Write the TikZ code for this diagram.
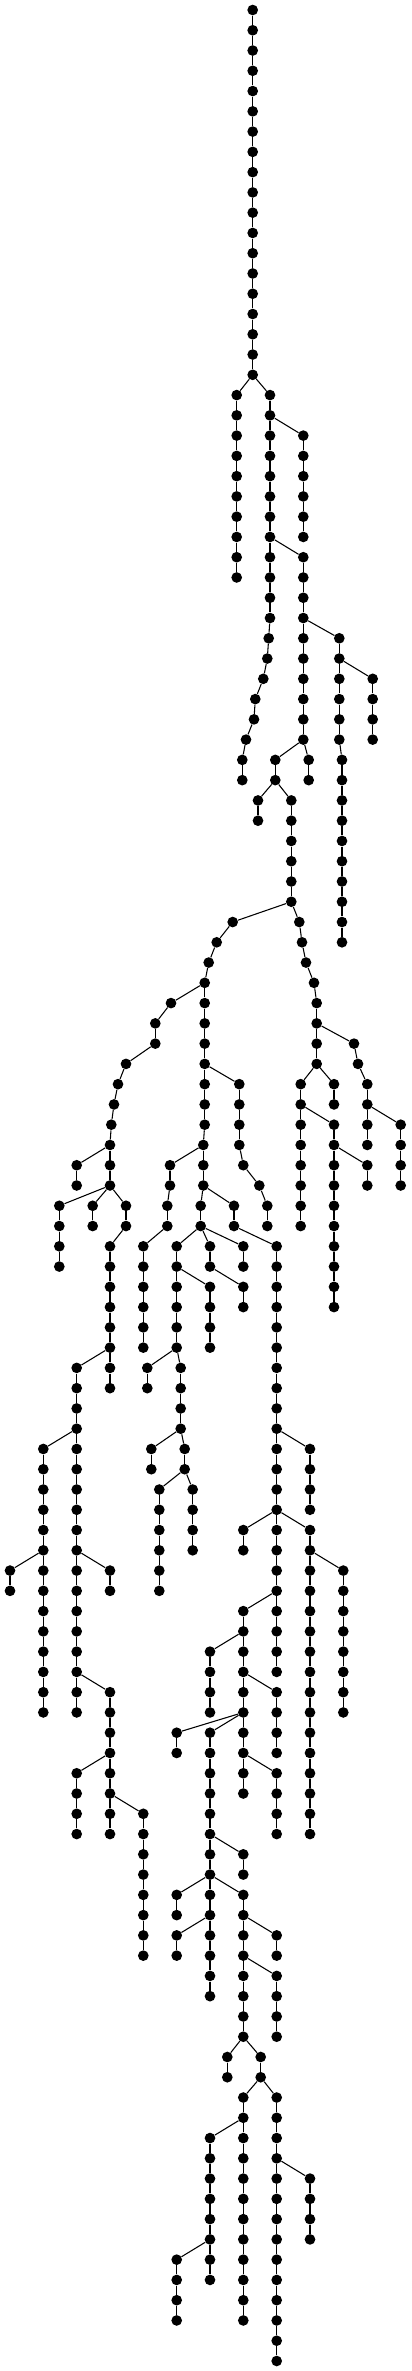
\documentclass[tikz,border=0pt]{standalone}
\usepackage{tikz}

\tikzset{
  dot/.style={circle,fill=black,inner sep=0pt,minimum size=8pt},
  edge/.style={line width=0.8pt}
}
% straight column of dots: name, x, first level, last level
\newcommand{\dotchain}[4]{%
  \foreach \l [remember=\l as \pl (initially -1)] in {#3,...,#4}{%
    \node[dot] (#1-\l) at (#2,{10+20.267*\l}) {};
    \ifnum\pl>-1 \draw[edge] (#1-\pl) -- (#1-\l);\fi
  }}
% bent column of dots: name, list level/x
\newcommand{\bentchain}[2]{%
  \foreach \l/\xx [remember=\l as \pl (initially -1)] in {#2}{%
    \node[dot] (#1-\l) at (\xx,{10+20.267*\l}) {};
    \ifnum\pl>-1 \draw[edge] (#1-\pl) -- (#1-\l);\fi
  }}

\begin{document}
\begin{tikzpicture}[x=0.75pt,y=0.75pt,yscale=-1,xscale=1]
\useasboundingbox (0,0) rectangle (411,2371);

%Trunk
\dotchain{t}{252.7}{0}{18}

%Upper part
\dotchain{a}{236.7}{19}{28}
\bentchain{b}{19/270,20/270,21/270,22/270,23/270,24/270,25/270,26/270,27/270,28/270,29/270,30/270,31/268.7,32/267.3,33/263.3,34/255.3,35/254,36/246,37/242.3,38/242.3}
\dotchain{c}{303.3}{21}{26}
\dotchain{d}{303.3}{27}{36}
\bentchain{e}{31/339.3,32/339.3,33/339.3,34/339.3,35/339.3,36/339.3,37/342,38/342,39/342,40/342,41/342,42/342,43/342,44/342,45/342,46/342}
\dotchain{f}{372.7}{33}{36}
\dotchain{g}{308.7}{37}{38}
\dotchain{h}{275.3}{37}{38}
\dotchain{i}{258}{39}{40}
\dotchain{j}{291.3}{39}{44}
\bentchain{k}{45/232.7,46/216.7,47/208.7,48/204.7}
\bentchain{m}{45/299.3,46/302,47/306,48/314,49/316.7,50/316.7,51/316.7,52/316.7}

%Left subtree
\bentchain{n}{49/171,50/155.3,51/155.3,52/126,53/118,54/114,55/111.3,56/110}
\bentchain{o}{49/204.7,50/204.7,51/204.7,52/204.7,53/204.7,54/204.7,55/204.7,56/203.3,57/203.3,58/203.3}
\bentchain{p}{53/239.3,54/239.3,55/239.3,56/239.3,57/243.3,58/259.3,59/267.3,60/267.3}
\bentchain{q}{57/170,58/170,59/167.3,60/167.3}
\dotchain{r}{143.3}{61}{66}
\dotchain{s}{76.7}{57}{58}
\dotchain{u}{110}{57}{58}
\dotchain{v}{59.3}{59}{62}
\dotchain{w}{92.7}{59}{60}
\bentchain{x}{59/126,60/126,61/110,62/110,63/110,64/110,65/110,66/110}
\dotchain{y}{76.7}{67}{84}
\dotchain{z}{110}{67}{68}
\dotchain{aa}{43.3}{71}{84}
\dotchain{ab}{10}{77}{78}
\dotchain{ac}{110}{77}{78}
\dotchain{ad}{110}{83}{90}
\dotchain{ae}{76.7}{87}{90}
\dotchain{af}{143.3}{89}{96}

%Middle subtree
\dotchain{ag}{200.7}{59}{60}
\bentchain{ah}{59/234,60/234,61/276.7,62/276.7,63/276.7,64/276.7,65/276.7,66/276.7,67/276.7,68/276.7,69/276.7,70/276.7,71/276.7,72/276.7,73/276.7,74/276.7,75/276.7,76/276.7,77/276.7,78/276.7,79/276.7,80/276.7,81/276.7,82/276.7}
\dotchain{ai}{310}{71}{74}
\dotchain{aj}{243.3}{75}{76}
\dotchain{ak}{310}{75}{90}
\dotchain{al}{343.3}{77}{84}
\dotchain{am}{243.3}{79}{88}
\dotchain{an}{210}{81}{84}
\dotchain{ao}{276.7}{83}{86}
\dotchain{ap}{276.7}{87}{90}
\dotchain{aq}{176.7}{85}{86}
\dotchain{ar}{210}{85}{98}
\dotchain{as}{243.3}{91}{92}
\dotchain{at}{176.7}{93}{94}
\dotchain{au}{243.3}{93}{100}
\dotchain{av}{276.7}{95}{96}
\dotchain{aw}{176.7}{95}{96}
\dotchain{ax}{276.7}{97}{100}
\dotchain{ay}{227.3}{101}{102}
\dotchain{az}{260.7}{101}{102}
\dotchain{ba}{243.3}{103}{114}
\dotchain{bb}{276.7}{103}{116}
\dotchain{bc}{210}{105}{112}
\dotchain{bd}{176.7}{111}{114}
\dotchain{be}{310}{107}{110}
\dotchain{bf}{176.7}{61}{66}
\dotchain{bg}{210}{61}{62}
\dotchain{bh}{243.3}{61}{62}
\dotchain{bi}{210}{63}{66}
\dotchain{bj}{243.3}{63}{64}
\dotchain{bk}{147.3}{67}{68}
\dotchain{bl}{180.7}{67}{70}
\dotchain{bm}{151.3}{71}{72}
\dotchain{bn}{184.7}{71}{72}
\dotchain{bo}{159.3}{73}{78}
\dotchain{bp}{192.7}{73}{76}

%Right subtree
\bentchain{bq}{51/354,52/358,53/367.3,54/367.3,55/367.3,56/367.3}
\dotchain{br}{400.7}{55}{58}
\dotchain{bs}{300.7}{53}{60}
\dotchain{bt}{334}{53}{54}
\dotchain{bu}{334}{55}{64}
\dotchain{bv}{367.3}{57}{58}

%Branch edges
\foreach \p/\c in {t-18/a-19,t-18/b-19,b-20/c-21,b-26/d-27,d-30/e-31,e-32/f-33,
  d-36/g-37,d-36/h-37,h-38/i-39,h-38/j-39,j-44/k-45,j-44/m-45,k-48/n-49,k-48/o-49,
  o-52/p-53,o-56/q-57,q-60/r-61,n-56/s-57,n-56/u-57,u-58/v-59,u-58/w-59,u-58/x-59,
  x-66/y-67,x-66/z-67,y-70/aa-71,aa-76/ab-77,y-76/ac-77,y-82/ad-83,ad-86/ae-87,
  ad-88/af-89,o-58/ag-59,o-58/ah-59,ah-70/ai-71,ah-74/aj-75,ah-74/ak-75,ak-76/al-77,
  ah-78/am-79,am-80/an-81,am-82/ao-83,am-86/ap-87,am-84/aq-85,am-84/ar-85,
  ar-90/as-91,ar-92/at-93,ar-92/au-93,au-94/av-95,ar-94/aw-95,au-96/ax-97,
  au-100/ay-101,au-100/az-101,az-102/ba-103,az-102/bb-103,ba-104/bc-105,
  bc-110/bd-111,bb-106/be-107,ag-60/bf-61,ag-60/bg-61,ag-60/bh-61,bf-62/bi-63,
  bg-62/bj-63,bf-66/bk-67,bf-66/bl-67,bl-70/bm-71,bl-70/bn-71,bn-72/bo-73,
  bn-72/bp-73,m-50/bq-51,bq-54/br-55,m-52/bs-53,m-52/bt-53,bs-54/bu-55,bu-56/bv-57}
  \draw[edge] (\p) -- (\c);

\end{tikzpicture}
\end{document}
